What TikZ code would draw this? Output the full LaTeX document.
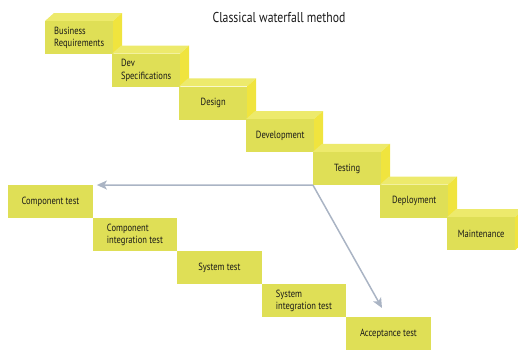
\documentclass[tikz,border=0pt]{standalone}
\usepackage{fontspec}
\setmainfont{PT Sans}[FakeStretch=0.82]
\usetikzlibrary{arrows.meta}
\definecolor{frontc}{RGB}{223,223,86}
\definecolor{topc}{RGB}{237,234,108}
\definecolor{sidec}{RGB}{240,228,62}
\definecolor{arrc}{RGB}{170,180,196}
\definecolor{txtc}{RGB}{25,25,25}
\tikzset{
  front/.style={fill=frontc, minimum width=68pt, minimum height=33pt, inner sep=0pt,
    anchor=north west, align=left, font=\fontsize{10.4}{12.5}\selectfont, text=txtc},
  flatbox/.style={fill=frontc, minimum width=84.5pt, minimum height=33pt, inner sep=0pt,
    anchor=north west, align=left, font=\fontsize{10.4}{12.5}\selectfont, text=txtc},
  conn/.style={draw=arrc, line width=1.5pt, -{Stealth[length=10pt,width=9pt,inset=2.5pt]}}
}
\begin{document}
\begin{tikzpicture}[x=1pt,y=-1pt]
\useasboundingbox (0,0) rectangle (518,349);
\node[font=\fontsize{14.3}{16}\selectfont, text=txtc] (title) at (279,17) {Classical waterfall method};
\foreach \i/\t in {0/{Business\\Requirements},1/{Dev\\Specifications},2/{Design},3/{Development},4/{Testing},5/{Deployment},6/{Maintenance}}{
  \fill[topc] (45+67*\i,21+32.7*\i) -- ++(9,-8) -- ++(68,0) -- ++(-9,8) -- cycle;
  \fill[sidec] (113+67*\i,21+32.7*\i) -- ++(9,-8) -- ++(0,33) -- ++(-9,8) -- cycle;
  \node[front] (b\i) at (45+67*\i,21+32.7*\i) {\t};
}
\foreach \i/\t in {0/{Component test},1/{Component\\integration test},2/{System test},3/{System\\integration test},4/{Acceptance test}}{
  \node[flatbox] (c\i) at (8+84.5*\i,185+33*\i) {\t};
}
\coordinate (t1) at ([xshift=4pt]c0.north east);
\coordinate (t2) at ([xshift=36pt,yshift=9pt]c4.north west);
\draw[conn] (b4.south west) -- (t1);
\draw[conn] (b4.south west) -- (t2);
\end{tikzpicture}
\end{document}
